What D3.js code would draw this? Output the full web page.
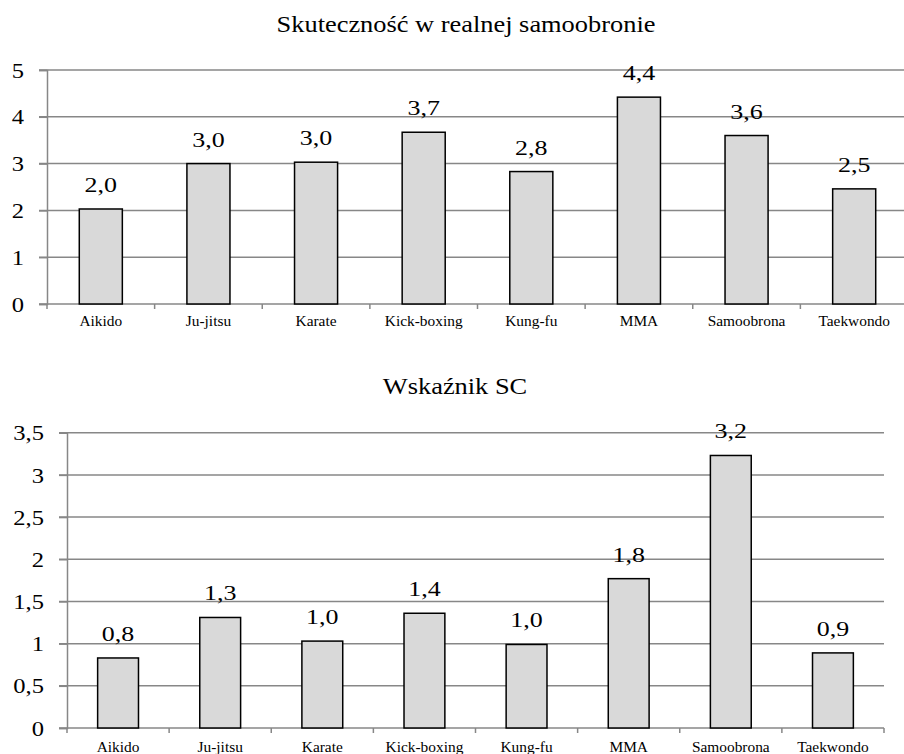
<!DOCTYPE html>
<html>
<head>
<meta charset="utf-8">
<script src="https://cdn.jsdelivr.net/npm/d3@7"></script>
<style>
  body { margin: 0; background: #fff; }
</style>
</head>
<body>
<svg id="chart"></svg>
<script>
// categories and values
const categories = ["Aikido", "Ju-jitsu", "Karate", "Kick-boxing", "Kung-fu", "MMA", "Samoobrona", "Taekwondo"];
const skutecznosc = [2.03, 3.0, 3.03, 3.67, 2.83, 4.42, 3.6, 2.46];
const wskaznikSC = [0.83, 1.31, 1.03, 1.36, 0.99, 1.77, 3.23, 0.89];
const topTicks = [0, 1, 2, 3, 4, 5];
const bottomTicks = [0, 0.5, 1, 1.5, 2, 2.5, 3, 3.5];
const titles = ["Skuteczność w realnej samoobronie", "Wskaźnik SC"];

const svgWidth = 904;
const svgHeight = 754;
const gridColor = "#878787";
const fontFam = "Liberation Serif";

const svg = d3.select("#chart")
    .attr("width", svgWidth)
    .attr("height", svgHeight)
    .attr("font-family", fontFam);

const comma = v => String(v).replace(".", ",");
const oneDec = v => d3.format(".1f")(v).replace(".", ",");

// text in the source is a bit wider than Liberation Serif, so stretch it
function stretch(sel, sx) {
    sel.each(function() {
        const t = d3.select(this);
        const x = +t.attr("x") || 0;
        const y = +t.attr("y") || 0;
        t.attr("x", 0).attr("y", 0)
            .attr("font-family", fontFam)
            .attr("fill", "#000")
            .attr("transform", `translate(${x},${y}) scale(${sx},1)`);
    });
}

function drawChart(cfg) {
    const g = svg.append("g");

    const x = d3.scaleBand()
        .domain(categories)
        .range([cfg.left, cfg.right])
        .paddingInner(0.6)
        .paddingOuter(0.3);

    const y = d3.scaleLinear()
        .domain([0, d3.max(cfg.ticks)])
        .range([cfg.bottom, cfg.top]);

    // gridlines
    g.selectAll(".grid")
        .data(cfg.ticks)
        .enter()
        .append("line")
        .attr("x1", cfg.left - 8)
        .attr("x2", cfg.right)
        .attr("y1", d => y(d))
        .attr("y2", d => y(d))
        .attr("stroke", gridColor)
        .attr("stroke-width", 1.5);

    // y axis
    const yAxis = g.append("g")
        .attr("transform", `translate(${cfg.left},0)`)
        .call(d3.axisLeft(y).tickValues(cfg.ticks).tickSize(8).tickPadding(15).tickFormat(comma));
    yAxis.attr("font-family", fontFam);
    yAxis.select(".domain").attr("stroke", gridColor).attr("stroke-width", 1.5);
    yAxis.selectAll(".tick line").attr("stroke", gridColor).attr("stroke-width", 1.5);
    yAxis.selectAll("text")
        .attr("font-size", 21)
        .attr("dy", "0.34em")
        .call(stretch, 1.17);

    // x axis ticks at category boundaries
    const step = x.step();
    const bounds = d3.range(categories.length + 1).map(i => cfg.left + i * step);
    g.selectAll(".xtick")
        .data(bounds)
        .enter()
        .append("line")
        .attr("x1", d => d)
        .attr("x2", d => d)
        .attr("y1", cfg.bottom)
        .attr("y2", cfg.bottom + 5)
        .attr("stroke", gridColor)
        .attr("stroke-width", 1.5);

    // bars
    g.selectAll("rect")
        .data(cfg.values)
        .enter()
        .append("rect")
        .attr("x", (d, i) => x(categories[i]))
        .attr("y", d => y(d))
        .attr("width", x.bandwidth())
        .attr("height", d => cfg.bottom - y(d))
        .attr("fill", "#d9d9d9")
        .attr("stroke", "#000")
        .attr("stroke-width", 1.5);

    // value labels
    g.selectAll(".val")
        .data(cfg.values)
        .enter()
        .append("text")
        .attr("x", (d, i) => x(categories[i]) + x.bandwidth() / 2)
        .attr("y", d => y(d) - 17)
        .attr("text-anchor", "middle")
        .attr("font-size", 22)
        .text(d => oneDec(d))
        .call(stretch, 1.18);

    // category labels
    g.selectAll(".cat")
        .data(categories)
        .enter()
        .append("text")
        .attr("x", d => x(d) + x.bandwidth() / 2)
        .attr("y", cfg.bottom + cfg.catOffset)
        .attr("text-anchor", "middle")
        .attr("font-size", 14)
        .text(d => d)
        .call(stretch, 1.1);

    // title
    g.append("text")
        .attr("x", cfg.titleX)
        .attr("y", cfg.titleY)
        .attr("text-anchor", "middle")
        .attr("font-size", 24)
        .text(cfg.title)
        .call(stretch, 1.1);
}

drawChart({
    values: skutecznosc, ticks: topTicks, title: titles[0],
    left: 47, right: 908, top: 70, bottom: 304,
    titleX: 466, titleY: 32, catOffset: 22
});

drawChart({
    values: wskaznikSC, ticks: bottomTicks, title: titles[1],
    left: 67, right: 884, top: 432.7, bottom: 728,
    titleX: 455, titleY: 394, catOffset: 24
});
</script>
</body>
</html>
